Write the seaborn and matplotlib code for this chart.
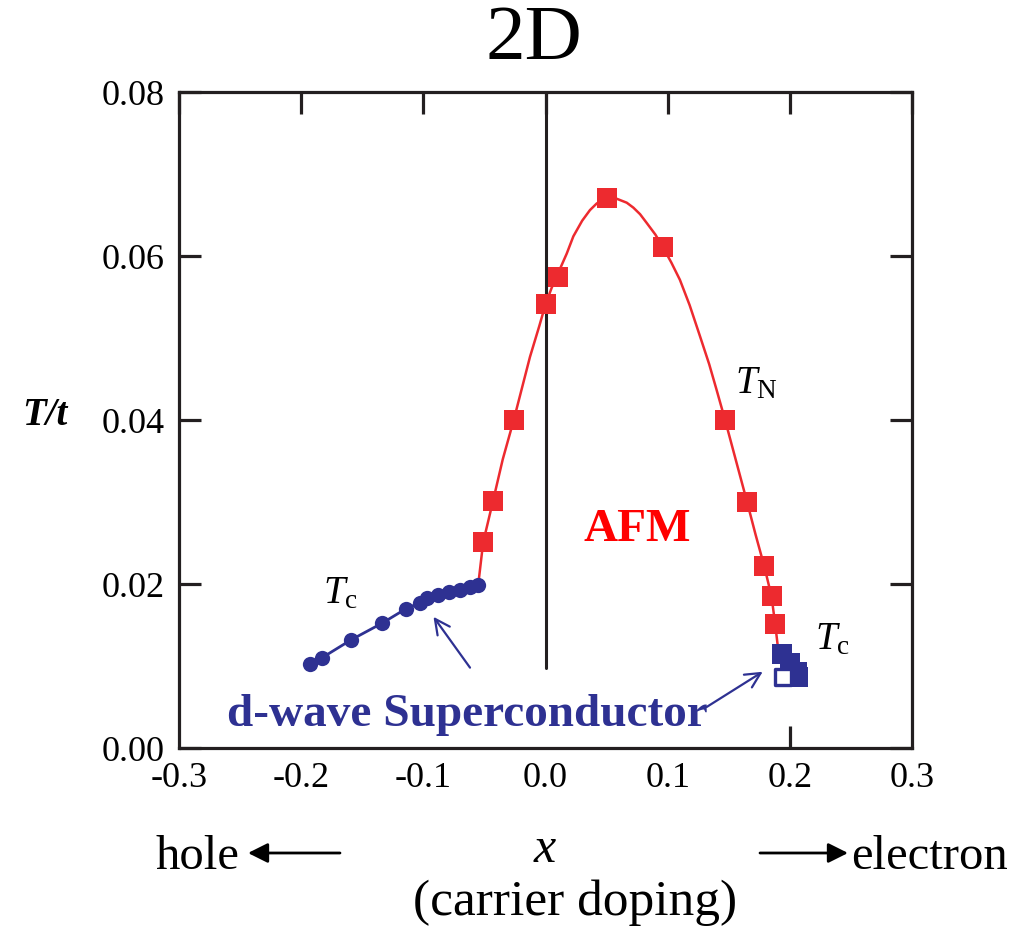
import numpy as np
import pandas as pd
import matplotlib
matplotlib.use("Agg")
import matplotlib.pyplot as plt
import seaborn as sns

# ---------------- data ----------------
# T_N markers (AFM transition, red squares)
tn_x = [-0.051, -0.043, -0.026, 0.000, 0.010, 0.050, 0.096, 0.147, 0.165, 0.179, 0.185, 0.188]
tn_y = [0.0251, 0.0301, 0.0400, 0.0541, 0.0574, 0.0671, 0.0611, 0.0400, 0.0300, 0.0222, 0.0185, 0.0151]
# T_N smooth curve
tn_curve_x = [-0.055, -0.051, -0.043, -0.035, -0.026, -0.0127, -0.005, 0.000, 0.005, 0.010,
              0.0174, 0.0228, 0.030, 0.0364, 0.0419, 0.050, 0.058, 0.0665, 0.0719, 0.0774,
              0.083, 0.090, 0.096, 0.103, 0.110, 0.118, 0.1265, 0.134, 0.140, 0.147,
              0.156, 0.165, 0.172, 0.179, 0.185, 0.188, 0.190]
tn_curve_y = [0.0200, 0.0251, 0.0301, 0.0352, 0.0400, 0.0477, 0.0515, 0.0541, 0.0561, 0.0578,
              0.0603, 0.0624, 0.0643, 0.0656, 0.0664, 0.0671, 0.0670, 0.0665, 0.0659, 0.0651,
              0.0640, 0.0626, 0.0611, 0.0592, 0.0571, 0.0540, 0.0502, 0.0468, 0.0437, 0.0400,
              0.0350, 0.0300, 0.0260, 0.0222, 0.0185, 0.0151, 0.0126]
# T_c hole side (blue dots)
tch_x = [-0.193, -0.183, -0.159, -0.134, -0.114, -0.103, -0.097, -0.088, -0.079, -0.070, -0.062, -0.055]
tch_y = [0.0103, 0.0110, 0.0132, 0.0152, 0.0170, 0.0177, 0.0183, 0.0186, 0.0190, 0.0193, 0.0196, 0.0199]
# T_c electron side (blue squares) and one open square
tce_x = [0.1936, 0.2004, 0.2061, 0.2070]
tce_y = [0.0115, 0.0104, 0.0093, 0.0086]
tce_open_x = [0.1944]
tce_open_y = [0.0087]

x_ticks = [-0.3, -0.2, -0.1, 0.0, 0.1, 0.2, 0.3]
y_ticks = [0.00, 0.02, 0.04, 0.06, 0.08]

RED = "#ED2A2F"
BLUE = "#2E3192"
DARK = "#231F20"

# ---------------- style ----------------
sns.set_theme(style="white")
plt.rcParams["font.family"] = ["Liberation Serif", "DejaVu Serif"]
plt.rcParams["text.color"] = "black"
plt.rcParams["mathtext.fontset"] = "custom"
plt.rcParams["mathtext.rm"] = "Liberation Serif"
plt.rcParams["mathtext.it"] = "Liberation Serif:italic"
plt.rcParams["mathtext.bf"] = "Liberation Serif:bold"

fig = plt.figure(figsize=(10.28, 9.30), dpi=100)
ax = fig.add_axes([179 / 1028, 1 - 748 / 930, (912 - 179) / 1028, (748 - 92) / 930])

df_curve = pd.DataFrame({"x": tn_curve_x, "y": tn_curve_y})
df_tn = pd.DataFrame({"x": tn_x, "y": tn_y})
df_tch = pd.DataFrame({"x": tch_x, "y": tch_y})
df_tce = pd.DataFrame({"x": tce_x, "y": tce_y})
df_open = pd.DataFrame({"x": tce_open_x, "y": tce_open_y})

# vertical line at x = 0
ax.axvline(0.0, ymin=0.0098 / 0.08, ymax=1.0, color=DARK, lw=2.2, zorder=1)

sns.lineplot(data=df_curve, x="x", y="y", sort=False, estimator=None, color=RED,
             lw=1.8, ax=ax, zorder=2)
sns.scatterplot(data=df_tn, x="x", y="y", marker="s", s=14.5 ** 2, color=RED,
                linewidth=0, ax=ax, zorder=3)
sns.lineplot(data=df_tch, x="x", y="y", sort=False, estimator=None, color=BLUE,
             lw=2.0, marker="o", markersize=11, markeredgewidth=0, ax=ax, zorder=4)
sns.scatterplot(data=df_tce, x="x", y="y", marker="s", s=14 ** 2, color=BLUE,
                linewidth=0, ax=ax, zorder=4)
sns.scatterplot(data=df_open, x="x", y="y", marker="s", s=11 ** 2, facecolor="white",
                edgecolor=BLUE, linewidth=2.4, ax=ax, zorder=5)

ax.set_xlim(-0.3, 0.3)
ax.set_ylim(0.0, 0.08)
ax.set_xticks(x_ticks)
ax.set_yticks(y_ticks)
ax.set_xticklabels([f"{v:.1f}" for v in x_ticks])
ax.set_yticklabels([f"{v:.2f}" for v in y_ticks])
ax.set_xlabel("")
ax.set_ylabel("")
for s in ax.spines.values():
    s.set_color(DARK)
    s.set_linewidth(2.3)
ax.tick_params(axis="both", which="major", direction="in", length=16, width=2.3,
               color=DARK, labelsize=26, labelcolor="black",
               top=True, right=True, bottom=True, left=True, pad=10)
# bottom ticks hidden under the label except the one at 0.2
for t, v in zip(ax.xaxis.get_major_ticks(), x_ticks):
    if abs(v - 0.2) > 1e-9:
        t.tick1line.set_visible(False)

# ---------------- annotations inside ----------------
ax.text(0.0749, 0.0266, "AFM", color="#FF0000", fontsize=34, fontweight="bold",
        ha="center", va="center")
ax.text(0.1551, 0.0433, r"$T_{\rm N}$", fontsize=28, ha="left", va="baseline", color="black")
ax.text(-0.1821, 0.0177, r"$T_{\rm c}$", fontsize=28, ha="left", va="baseline", color="black")
ax.text(0.2206, 0.0120, r"$T_{\rm c}$", fontsize=28, ha="left", va="baseline", color="black")
ax.text(-0.0643, 0.0027, "d-wave Superconductor", color=BLUE, fontsize=34,
        fontweight="bold", ha="center", va="baseline", zorder=6)
ax.annotate("", xy=(-0.0917, 0.0160), xytext=(-0.0618, 0.0098),
            arrowprops=dict(arrowstyle="->,head_length=0.6,head_width=0.3", color=BLUE,
                            lw=1.6, mutation_scale=18, shrinkA=0, shrinkB=0), zorder=6)
ax.annotate("", xy=(0.1778, 0.0093), xytext=(0.1319, 0.0050),
            arrowprops=dict(arrowstyle="->,head_length=0.6,head_width=0.3", color=BLUE,
                            lw=1.6, mutation_scale=18, shrinkA=0, shrinkB=0), zorder=6)

# ---------------- outside texts ----------------
fig.text(534 / 1028, 1 - 40 / 930, "2D", fontsize=57, ha="center", va="center", color="black")
fig.text(45 / 1028, 1 - 415 / 930, "T/t", fontsize=28, style="italic", fontweight="bold",
         ha="center", va="center", color="black")
fig.text(155 / 1028, 1 - 869 / 930, "hole", fontsize=35, ha="left", va="baseline")
fig.text(545 / 1028, 1 - 862 / 930, "x", fontsize=36, style="italic", ha="center", va="baseline")
fig.text(575 / 1028, 1 - 915 / 930, "(carrier doping)", fontsize=37, ha="center", va="baseline")
fig.text(1008 / 1028, 1 - 869 / 930, "electron", fontsize=35, ha="right", va="baseline")
arr = dict(arrowstyle="-|>,head_length=0.6,head_width=0.3", color="black", lw=2,
           mutation_scale=20, shrinkA=0, shrinkB=0)
fig.add_artist(matplotlib.patches.FancyArrowPatch((340 / 1028, 1 - 853 / 930),
                                                  (248 / 1028, 1 - 853 / 930),
                                                  transform=fig.transFigure, **arr))
fig.add_artist(matplotlib.patches.FancyArrowPatch((760 / 1028, 1 - 853 / 930),
                                                  (848 / 1028, 1 - 853 / 930),
                                                  transform=fig.transFigure, **arr))

fig.savefig("out.png", dpi=100, facecolor="white")
